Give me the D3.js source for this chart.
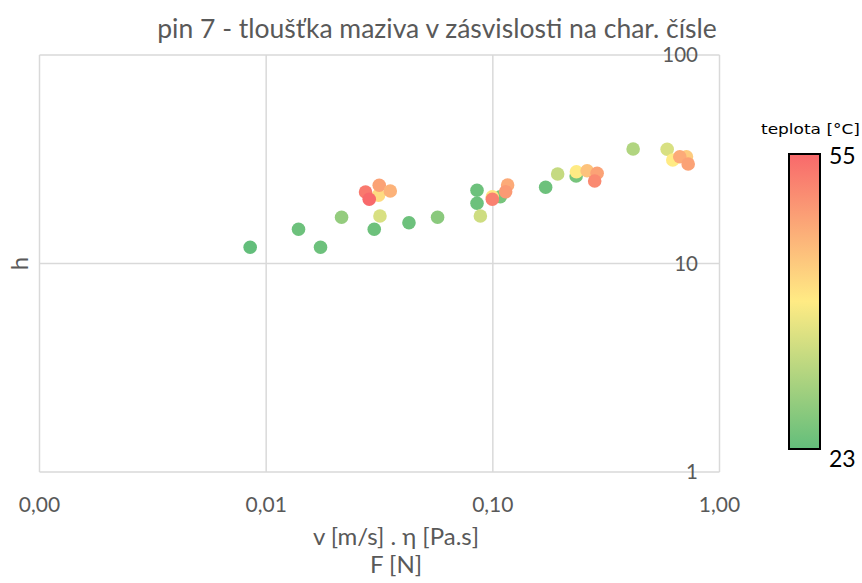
<!DOCTYPE html>
<html>
<head>
<meta charset="utf-8">
<script src="https://cdn.jsdelivr.net/npm/d3@7"></script>
<style>
  html, body { margin: 0; padding: 0; background: #fff; }
  svg { display: block; font-family: Lato, "Open Sans", sans-serif; }
</style>
</head>
<body>
<svg id="chart" width="862" height="583"></svg>
<script>
// Measurements: characteristic number, film thickness h, temperature
const charNumber = [
  0.00850, 0.01389, 0.01737, 0.02151,
  0.02998, 0.03177, 0.03131, 0.02744, 0.03154, 0.03528, 0.02849,
  0.04266, 0.05705,
  0.08515, 0.08515, 0.0881, 0.1079, 0.0995, 0.1162, 0.1139, 0.0995,
  0.1710, 0.1932, 0.2331, 0.2338, 0.2606, 0.2884, 0.2814,
  0.4159, 0.5876, 0.6221, 0.7148, 0.6680, 0.7275
];
const thickness = [
  11.96, 14.59, 11.96, 16.66,
  14.59, 16.90, 21.24, 22.03, 23.72, 22.27, 20.32,
  15.69, 16.66,
  22.44, 19.45, 16.90, 20.91, 20.91, 23.79, 22.10, 20.32,
  23.20, 26.87, 26.29, 27.56, 27.87, 27.08, 24.87,
  35.42, 35.30, 31.36, 32.53, 32.53, 30.00
];
const temperature = [
  23, 24, 24, 28,
  24, 35, 41, 53, 48, 46, 55,
  24, 27,
  24, 24, 34, 25, 40, 47, 49, 52,
  24, 33, 25, 39, 44, 48, 51,
  31, 35, 39, 43, 47, 48
];

const xTicks = [0.001, 0.01, 0.1, 1];
const xTickLabels = ["0,00", "0,01", "0,10", "1,00"];
const yTicks = [1, 10, 100];
const yTickLabels = ["1", "10", "100"];
const tempRange = [23, 55];

const chartTitle = "pin 7 - tloušťka maziva v zásvislosti na char. čísle";
const xTitleLines = ["v [m/s] . η [Pa.s]", "F [N]"];
const yTitle = "h";
const legendTitle = "teplota [°C]";

const svg = d3.select("#chart");
const plot = { left: 39.5, right: 719.5, top: 55, bottom: 472 };

const x = d3.scaleLog().domain([0.001, 1]).range([plot.left, plot.right]);
const y = d3.scaleLog().domain([1, 100]).range([plot.bottom, plot.top]);
const tMid = (tempRange[0] + tempRange[1]) / 2;
const color = d3.scaleLinear()
  .domain([tempRange[0], tMid, tempRange[1]])
  .range(["#63be7b", "#ffeb84", "#f8696b"]);

const gridColor = "#d9d9d9";
const textColor = "#595959";

// Gridlines
svg.append("g").selectAll("line.v").data(xTicks).join("line")
  .attr("x1", d => x(d)).attr("x2", d => x(d))
  .attr("y1", plot.top).attr("y2", plot.bottom)
  .attr("stroke", gridColor).attr("stroke-width", 1.5);
svg.append("g").selectAll("line.h").data(yTicks).join("line")
  .attr("x1", plot.left).attr("x2", plot.right)
  .attr("y1", d => y(d)).attr("y2", d => y(d))
  .attr("stroke", gridColor).attr("stroke-width", 1.5);

// X tick labels
svg.append("g").selectAll("text").data(xTicks).join("text")
  .attr("x", d => x(d)).attr("y", 512)
  .attr("text-anchor", "middle")
  .attr("font-size", 21).attr("fill", textColor)
  .text((d, i) => xTickLabels[i]);

// Y tick labels, drawn inside the plot at the right edge
svg.append("g").selectAll("text").data(yTicks).join("text")
  .attr("x", 698).attr("y", d => y(d))
  .attr("dy", "0.36em")
  .attr("text-anchor", "end")
  .attr("font-size", 20.5).attr("fill", textColor)
  .text((d, i) => yTickLabels[i]);

// Points
svg.append("g").selectAll("circle").data(charNumber).join("circle")
  .attr("cx", d => x(d))
  .attr("cy", (d, i) => y(thickness[i]))
  .attr("r", 6.8)
  .attr("fill", (d, i) => color(temperature[i]));

// Titles
svg.append("text")
  .attr("x", 437).attr("y", 38)
  .attr("text-anchor", "middle")
  .attr("font-size", 26.5).attr("fill", textColor)
  .text(chartTitle);

svg.append("g").selectAll("text").data(xTitleLines).join("text")
  .attr("x", 396).attr("y", (d, i) => 545 + i * 28)
  .attr("text-anchor", "middle")
  .attr("font-size", 24).attr("fill", textColor)
  .text(d => d);

svg.append("text")
  .attr("transform", `translate(28,${y(10)}) rotate(-90)`)
  .attr("text-anchor", "middle")
  .attr("font-size", 24).attr("fill", textColor)
  .text(yTitle);

// Colour legend
const legend = { x: 789, y: 154, w: 31, h: 295 };
const defs = svg.append("defs");
const grad = defs.append("linearGradient")
  .attr("id", "tempGrad").attr("x1", 0).attr("y1", 1).attr("x2", 0).attr("y2", 0);
grad.selectAll("stop").data([tempRange[0], tMid, tempRange[1]]).join("stop")
  .attr("offset", d => (d - tempRange[0]) / (tempRange[1] - tempRange[0]))
  .attr("stop-color", d => color(d));

svg.append("rect")
  .attr("x", legend.x).attr("y", legend.y)
  .attr("width", legend.w).attr("height", legend.h)
  .attr("fill", "url(#tempGrad)")
  .attr("stroke", "#000").attr("stroke-width", 2);

svg.append("text")
  .attr("x", 761).attr("y", 134)
  .attr("font-family", "'DejaVu Sans', sans-serif")
  .attr("font-size", 14).attr("fill", "#000")
  .attr("textLength", 99).attr("lengthAdjust", "spacingAndGlyphs")
  .text(legendTitle);

svg.append("text")
  .attr("x", 829).attr("y", 164)
  .attr("font-size", 23).attr("fill", "#000")
  .text(tempRange[1]);
svg.append("text")
  .attr("x", 829).attr("y", 467)
  .attr("font-size", 23).attr("fill", "#000")
  .text(tempRange[0]);
</script>
</body>
</html>
